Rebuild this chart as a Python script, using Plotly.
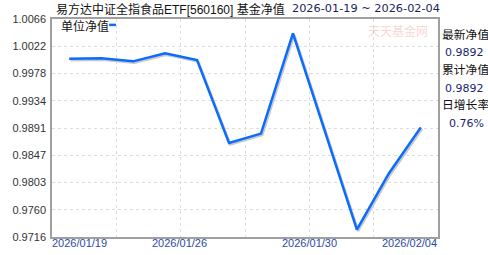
import plotly.graph_objects as go
import numpy as np

# ---- data ----
dates = ["2026-01-20", "2026-01-21", "2026-01-22", "2026-01-23", "2026-01-26", "2026-01-27",
         "2026-01-28", "2026-01-29", "2026-01-30", "2026-02-02", "2026-02-03", "2026-02-04"]
nav = [1.0002, 1.0003, 0.9998, 1.0011, 1.0000, 0.9867,
       0.9882, 1.0043, 0.98855, 0.9728, 0.9818, 0.9892]
y_tick_labels = ["0.9716", "0.9760", "0.9803", "0.9847", "0.9891",
                 "0.9934", "0.9978", "1.0022", "1.0066"]
x_tick_labels = ["2026/01/19", "2026/01/26", "2026/01/30", "2026/02/04"]
title_main = "易方达中证全指食品ETF[560160] 基金净值"
title_range = "2026-01-19 ~ 2026-02-04"
legend_name = "单位净值"
side_labels = ["最新净值", "累计净值", "日增长率"]
side_values = ["0.9892", "0.9892", "0.76%"]

# ---- layout geometry ----
W, H = 488, 255
ML, MR, MT, MB = 46, 50, 19, 14
pw = W - ML - MR
ph = H - MT - MB
n = len(nav)
x = list(range(n))
pad = 0.538
xr = [-pad, (n - 1) + pad]
yr = [float(y_tick_labels[0]), float(y_tick_labels[-1])]
xgrid = list(np.linspace(xr[0], xr[1], 7))
ygrid = list(np.linspace(yr[0], yr[1], len(y_tick_labels)))

CJK = "Liberation Sans, Noto Sans CJK SC"

# shadow offset (pixels)
dpx, dpy = 1.3, 1.5
dxv = dpx * (xr[1] - xr[0]) / pw
dyv = dpy * (yr[1] - yr[0]) / ph

fig = go.Figure()
fig.add_trace(go.Scatter(x=x, y=nav, mode="lines", xaxis="x", yaxis="y",
                         line=dict(color="#c8c8c8", width=2.5), hoverinfo="skip",
                         showlegend=False))
fig.add_trace(go.Scatter(x=x, y=nav, mode="lines", xaxis="x2", yaxis="y2",
                         line=dict(color="#0a6cff", width=2.5), text=dates,
                         showlegend=False))

fig.update_layout(
    width=W, height=H,
    margin=dict(l=ML, r=MR, t=MT, b=MB, pad=0),
    paper_bgcolor="white", plot_bgcolor="white",
    xaxis=dict(range=[xr[0] - dxv, xr[1] - dxv], visible=False, showgrid=False, zeroline=False),
    yaxis=dict(range=[yr[0] + dyv, yr[1] + dyv], visible=False, showgrid=False, zeroline=False),
    xaxis2=dict(range=xr, overlaying="x", side="bottom", tickvals=xgrid, showticklabels=False,
                ticks="", showgrid=True, gridcolor="#dedede", griddash="3px,3px", gridwidth=1,
                zeroline=False, showline=True, linecolor="#a0a0a0", linewidth=1.5, mirror=True),
    yaxis2=dict(range=yr, overlaying="y", side="left", tickvals=ygrid, ticktext=y_tick_labels,
                ticks="", ticklabelstandoff=2, showgrid=True, gridcolor="#dedede",
                griddash="3px,3px", gridwidth=1, zeroline=False, showline=True,
                linecolor="#a0a0a0", linewidth=1.5, mirror=True,
                tickfont=dict(family="Liberation Sans, Arial", size=11, color="#333333")),
    showlegend=False,
)

ann = []
# title
ann.append(dict(text=title_main, xref="paper", yref="paper", x=(48 - ML) / pw, y=1 + (MT - 9) / ph,
                xanchor="left", yanchor="middle", showarrow=False,
                font=dict(family=CJK, size=12, color="#111111")))
ann.append(dict(text=title_range, xref="paper", yref="paper", x=(288 - ML) / pw, y=1 + (MT - 8) / ph,
                xanchor="left", yanchor="middle", showarrow=False,
                font=dict(family="DejaVu Sans", size=11.3, color="#1a1f5c")))
# legend
ann.append(dict(text=legend_name, xref="paper", yref="paper", x=(53 - ML) / pw, y=1 - (27 - MT) / ph,
                xanchor="left", yanchor="middle", showarrow=False,
                font=dict(family=CJK, size=12, color="#111111")))
# watermark
ann.append(dict(text="天天基金网", xref="paper", yref="paper", x=(397 - ML) / pw, y=1 - (31 - MT) / ph,
                xanchor="center", yanchor="middle", showarrow=False, opacity=0.28,
                font=dict(family="Noto Sans CJK SC", size=12, color="#e87070")))
# x labels
xlab_pos = [xgrid[0], xgrid[2], xgrid[4], xgrid[6]]
xanchors = ["left", "center", "center", "right"]
shifts = [-2, -1, 0, 1]
for lab, xp, xa, sh in zip(x_tick_labels, xlab_pos, xanchors, shifts):
    ann.append(dict(text=lab, xref="x2", yref="paper", x=xp, y=-(247 - MT - ph) / ph,
                    xanchor=xa, yanchor="middle", showarrow=False, xshift=sh,
                    font=dict(family="Liberation Sans, Arial", size=11, color="#2b4aa8")))
# side panel
label_y = [35, 71, 107]
value_y = [53, 90, 125]
for lab, val, ly, vy in zip(side_labels, side_values, label_y, value_y):
    ann.append(dict(text=lab, xref="paper", yref="paper", x=1 + (440 - ML - pw) / pw,
                    y=1 - (ly - MT) / ph, xanchor="left", yanchor="middle", showarrow=False,
                    font=dict(family=CJK, size=11.8, color="#111111")))
    ann.append(dict(text=val, xref="paper", yref="paper", x=1 + (487 - ML - pw) / pw,
                    y=1 - (vy - MT) / ph, xanchor="right", yanchor="middle", showarrow=False,
                    font=dict(family="DejaVu Sans", size=11, color="#1a1f6e")))
fig.update_layout(annotations=ann)

# legend marker
fig.add_shape(type="line", xref="paper", yref="paper",
              x0=(104 - ML) / pw, x1=(111 - ML) / pw,
              y0=1 - (25 - MT) / ph, y1=1 - (25 - MT) / ph,
              line=dict(color="#0a6cff", width=2.5))

fig.write_html("out.html", config={"displayModeBar": False})
